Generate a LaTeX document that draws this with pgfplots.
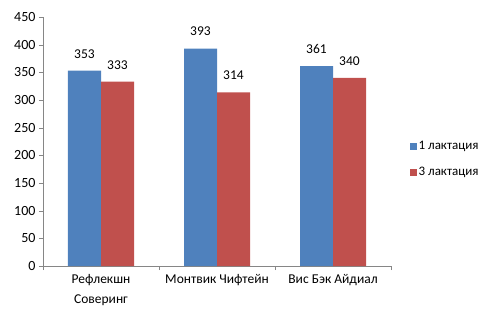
\documentclass[border=0pt]{standalone}
\usepackage{pgfplots}
\pgfplotsset{compat=1.18}
\usepackage{fontspec}
\setmainfont{Carlito}
\definecolor{cblue}{HTML}{4F81BD}
\definecolor{cred}{HTML}{C0504D}
\definecolor{axgray}{HTML}{868686}
\begin{document}
\begin{tikzpicture}[x=1pt,y=1pt]
\useasboundingbox (-43,-52) rectangle (443,266);
\begin{axis}[
  at={(0,0)}, anchor=south west,
  scale only axis, width=348pt, height=249pt,
  ymin=0, ymax=450, ytick={0,50,...,450},
  xmin=-0.5, xmax=2.5,
  xtick={-0.5,0.5,1.5,2.5},
  xticklabels={},
  extra x ticks={0,1,2},
  extra x tick labels={Рефлекшн\\Соверинг, Монтвик Чифтейн, Вис Бэк Айдиал},
  extra x tick style={major tick length=0pt,
    tick label style={align=center, font=\fontsize{13.5}{20}\selectfont, yshift=-5pt}},
  y tick label style={font=\fontsize{14}{15}\selectfont},
  /pgf/number format/assume math mode=true,
  axis lines*=left,
  axis line style={axgray},
  tick style={axgray},
  tick align=outside,
  major tick length=4pt,
  ybar=0pt, bar width=33pt,
  nodes near coords,
  every node near coord/.append style={font=\fontsize{13.5}{15}\selectfont, yshift=9pt},
  legend style={at={(1.05,0.428)}, anchor=west, draw=none, fill=none,
    font=\fontsize{13}{15}\selectfont, row sep=12pt, inner sep=1pt},
  legend image code/.code={\fill[#1] (0pt,-3.5pt) rectangle (7pt,3.5pt);},
]
\addplot[fill=cblue, draw=none] coordinates {(0,353) (1,393) (2,361)};
\addplot[fill=cred, draw=none] coordinates {(0,333) (1,314) (2,340)};
\legend{1 лактация, 3 лактация}
\end{axis}
\end{tikzpicture}
\end{document}
